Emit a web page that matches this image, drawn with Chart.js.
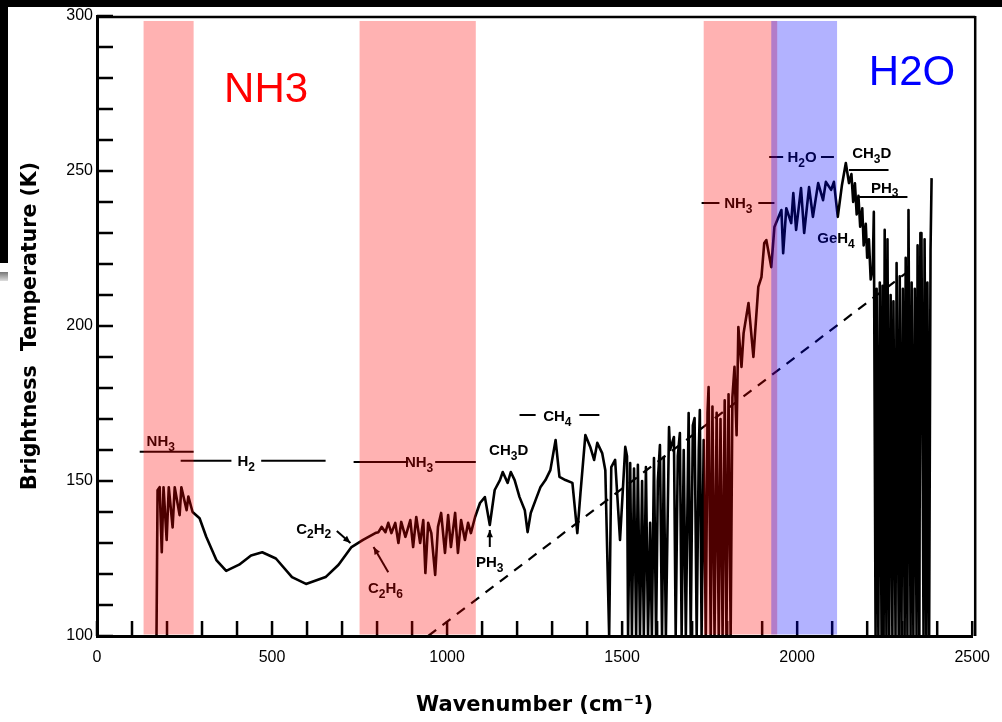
<!DOCTYPE html>
<html>
<head>
<meta charset="utf-8">
<script src="https://cdn.jsdelivr.net/npm/chart.js@4.4.1/dist/chart.umd.min.js"></script>
<style>
  html, body { margin: 0; padding: 0; background: #fff; }
  canvas { display: block; }
</style>
</head>
<body>
<canvas id="spectrumChart" width="1002" height="722"></canvas>
<script>
// spectrum: wavenumber (cm-1) and brightness temperature (K)
const wavenumber = [
  170, 173, 179, 185, 190, 199, 205, 216, 222, 236, 241, 256, 261, 273,
  293, 312, 341, 369, 406, 440, 472, 511, 557, 597, 653, 690, 727, 760, 795,
  804, 813, 824, 832, 841, 852, 861, 869, 881, 895, 903, 912, 923, 932, 938,
  946, 955, 966, 974, 983, 994, 1003, 1011, 1023, 1031, 1040, 1051, 1060, 1068, 1080,
  1094, 1108, 1122, 1136, 1151, 1159, 1173, 1182, 1193, 1207, 1222, 1230, 1239,
  1253, 1267, 1281, 1295, 1310, 1321, 1338, 1358, 1372, 1381, 1395, 1409, 1420,
  1429, 1443, 1452, 1463, 1469, 1480, 1494, 1509,
  1514, 1517, 1523, 1528, 1534, 1540, 1545, 1551, 1557, 1562, 1568, 1574, 1580, 1585,
  1591, 1597, 1602, 1608, 1614, 1619, 1625, 1634, 1637, 1648, 1653, 1659, 1665, 1670,
  1676, 1682, 1690, 1696, 1702, 1707, 1713, 1719, 1722, 1727, 1733,
  1739, 1744, 1747, 1753, 1758, 1764, 1770, 1776, 1781, 1787, 1793, 1798, 1804, 1810,
  1815, 1821, 1827, 1832,
  1841, 1847, 1861, 1875, 1889, 1898, 1906, 1912, 1926, 1935, 1955, 1960, 1969,
  1983, 1989, 1997, 2011, 2020, 2034, 2045, 2060, 2074, 2082, 2097, 2105, 2116,
  2128, 2139, 2148, 2155, 2160, 2165, 2170, 2175, 2180, 2186, 2190, 2196, 2200, 2205, 2210,
  2216, 2219, 2224, 2227, 2232, 2236, 2241, 2244, 2247, 2250, 2255, 2258, 2263, 2267,
  2272, 2275, 2281, 2284, 2290, 2293, 2298, 2302, 2307, 2310, 2315, 2318, 2324, 2327,
  2332, 2336, 2341, 2344, 2349, 2352, 2355, 2361, 2364, 2369, 2372, 2377, 2381, 2384
];
const brightnessT = [
  100, 147, 148, 127, 148, 131, 148, 135, 148, 139, 148, 140.6, 145, 140,
  138, 132, 124.5, 121, 123, 126, 127, 125, 119, 116.8, 119, 123, 128.7, 131, 133.2,
  133.5, 135.2, 133.5, 136.5, 133.2, 136.5, 130, 136.8, 132, 137.4, 128.7, 138.4, 130, 137.4, 120.3,
  136.5, 133.2, 119.7, 135.2, 139.7, 126.8, 139, 128.7, 139.7, 126.8, 137.4, 131, 136.5, 133.2, 138.4,
  142.9, 144.8, 135.8, 147.1, 150.3, 152.9, 149.4, 152.9, 150.3, 144.8, 140.6, 133.5, 139.7,
  143.9, 148.1, 150.3, 153.5, 163.2, 151.3, 150.3, 149.4, 133.2, 146.1, 164.8, 161, 156.8,
  162.3, 159, 153.5, 100, 154.5, 156.8, 131, 161,
  158, 100, 155.8, 100, 154, 100, 155.2, 100, 150, 100, 154.5, 100, 136.5, 100,
  157.4, 100, 150, 161.6, 100, 157.7, 100, 167.4, 160, 164.2, 100, 158, 165.5, 100,
  160, 100, 171.9, 100, 168, 170.3, 100, 160, 172.9, 100, 163.2,
  100, 172, 180.3, 100, 174, 100, 172, 100, 170, 100, 176, 100, 178, 100,
  177, 186.8, 164.8, 199.7,
  186.8, 197.7, 207.4, 190, 212.6, 215.8, 226.8, 227.7, 219, 231.9, 237.4, 223.5, 238,
  233.2, 242.9, 231, 244.5, 230, 244.8, 235.2, 246.1, 240.6, 246.5, 243.9, 246.5, 235.2,
  245.5, 252.6, 246.1, 249, 240, 246, 236, 242, 232, 238, 226, 233, 222, 228, 215, 219,
  236.8, 100, 212, 100, 214, 100, 213, 100, 231, 100, 228, 100, 210, 100,
  208, 100, 220.3, 100, 216, 100, 212, 100, 222, 100, 237.4, 100, 214, 100,
  212, 100, 226, 100, 230, 230, 100, 228, 100, 214, 100, 224.5, 247.7, 100
];

// dashed reference line
const dashWavenumber = [946, 2310];
const dashT = [100, 217];

// absorption windows marked on top of the figure
const nh3Bands = [[133, 276], [750, 1082], [1733, 1943]];
const h2oBands = [[1926, 2114]];

// molecule labels from the original figure
const tagText = ['NH3', 'H2', 'NH3', 'C2H2', 'C2H6', 'CH3D', 'PH3', 'CH4', 'NH3', 'H2O', 'CH3D', 'PH3', 'GeH4'];
const tagWn   = [182, 426, 920, 619, 824, 1176, 1122, 1315, 1832, 2014, 2213, 2250, 2111];
const tagT    = [162.9, 156.5, 156.1, 134.8, 115.5, 160, 123.9, 171, 239.7, 254.5, 255.8, 244.8, 228.4];
// rule segments [from, to, T]
const tagRules = [
  [122, 276, 159.4], [239, 384, 156.5], [469, 653, 156.5],
  [733, 889, 156.1], [966, 1082, 156.1], [1207, 1253, 171.3], [1378, 1435, 171.3],
  [1727, 1778, 239.7], [1889, 1935, 239.7], [1920, 1960, 254.5], [2068, 2105, 254.5],
  [2148, 2261, 250.3], [2176, 2315, 241.6]
];
// arrows [wn0, T0, wn1, T1] (head at the end)
const tagArrows = [[685, 133.9, 724, 130], [832, 120.6, 790, 128.7], [1122, 128.7, 1122, 134.2]];

const spectrum = wavenumber.map((w, i) => ({ x: w, y: brightnessT[i] }));
const dashed = dashWavenumber.map((w, i) => ({ x: w, y: dashT[i] }));

function drawChem(ctx, str, cx, cy, size) {
  const big = 'bold ' + size + 'px "Liberation Sans"';
  const small = 'bold ' + Math.round(size * 0.78) + 'px "Liberation Sans"';
  let w = 0;
  for (const ch of str) { ctx.font = /\d/.test(ch) ? small : big; w += ctx.measureText(ch).width; }
  let x = cx - w / 2;
  const base = cy + size * 0.36;
  ctx.textAlign = 'left';
  ctx.textBaseline = 'alphabetic';
  for (const ch of str) {
    const sub = /\d/.test(ch);
    ctx.font = sub ? small : big;
    ctx.fillText(ch, x, sub ? base + size * 0.3 : base);
    x += ctx.measureText(ch).width;
  }
}

const paperPlugin = {
  id: 'paper',
  beforeDraw(chart) {
    const ctx = chart.ctx;
    ctx.save();
    ctx.fillStyle = '#fff';
    ctx.fillRect(0, 0, chart.width, chart.height);
    ctx.restore();
  },
  beforeDatasetsDraw(chart) {
    const ctx = chart.ctx, a = chart.chartArea;
    const xs = chart.scales.x, ys = chart.scales.y;
    ctx.save();
    ctx.strokeStyle = '#000';
    ctx.lineWidth = 2.5;
    ctx.beginPath();
    xs.ticks.forEach(t => {
      const px = xs.getPixelForValue(t.value);
      ctx.moveTo(px, a.bottom); ctx.lineTo(px, a.bottom - 15);
    });
    ys.ticks.forEach(t => {
      const py = ys.getPixelForValue(t.value);
      ctx.moveTo(a.left, py); ctx.lineTo(a.left + 16, py);
    });
    ctx.stroke();
    // top and right frame
    ctx.beginPath();
    ctx.moveTo(a.left, a.top + 1); ctx.lineTo(a.right + 3, a.top + 1);
    ctx.moveTo(a.right + 3, a.top); ctx.lineTo(a.right + 3, a.bottom);
    ctx.stroke();
    ctx.restore();
  },
  afterDatasetsDraw(chart) {
    const ctx = chart.ctx, a = chart.chartArea;
    const xs = chart.scales.x, ys = chart.scales.y;
    ctx.save();
    // molecule labels and rules
    ctx.fillStyle = '#000';
    ctx.strokeStyle = '#000';
    ctx.lineWidth = 2;
    tagText.forEach((t, i) => drawChem(ctx, t, xs.getPixelForValue(tagWn[i]), ys.getPixelForValue(tagT[i]), 15));
    ctx.beginPath();
    tagRules.forEach(r => {
      const py = ys.getPixelForValue(r[2]);
      ctx.moveTo(xs.getPixelForValue(r[0]), py); ctx.lineTo(xs.getPixelForValue(r[1]), py);
    });
    ctx.stroke();
    tagArrows.forEach(r => {
      const x0 = xs.getPixelForValue(r[0]), y0 = ys.getPixelForValue(r[1]);
      const x1 = xs.getPixelForValue(r[2]), y1 = ys.getPixelForValue(r[3]);
      ctx.beginPath(); ctx.moveTo(x0, y0); ctx.lineTo(x1, y1); ctx.stroke();
      const ang = Math.atan2(y1 - y0, x1 - x0);
      ctx.beginPath();
      ctx.moveTo(x1, y1);
      ctx.lineTo(x1 - 8 * Math.cos(ang - 0.4), y1 - 8 * Math.sin(ang - 0.4));
      ctx.lineTo(x1 - 8 * Math.cos(ang + 0.4), y1 - 8 * Math.sin(ang + 0.4));
      ctx.closePath(); ctx.fill();
    });
    // translucent windows
    const top = ys.getPixelForValue(298.4);
    const bottom = a.bottom - 1.5;
    ctx.fillStyle = 'rgba(255,0,0,0.3)';
    nh3Bands.forEach(b => {
      const x0 = xs.getPixelForValue(b[0]), x1 = xs.getPixelForValue(b[1]);
      ctx.fillRect(x0, top, x1 - x0, bottom - top);
    });
    ctx.fillStyle = 'rgba(0,0,255,0.3)';
    h2oBands.forEach(b => {
      const x0 = xs.getPixelForValue(b[0]), x1 = xs.getPixelForValue(b[1]);
      ctx.fillRect(x0, top, x1 - x0, bottom - top);
    });
    // big labels
    ctx.textAlign = 'center';
    ctx.textBaseline = 'middle';
    ctx.font = '42px "Liberation Sans"';
    ctx.fillStyle = '#ff0000';
    ctx.fillText('NH3', xs.getPixelForValue(483), ys.getPixelForValue(276.1));
    ctx.fillStyle = '#0000ff';
    ctx.fillText('H2O', xs.getPixelForValue(2328), ys.getPixelForValue(281.6));
    ctx.restore();
  },
  afterDraw(chart) {
    const ctx = chart.ctx, a = chart.chartArea;
    ctx.save();
    ctx.fillStyle = '#000';
    ctx.textAlign = 'center';
    ctx.textBaseline = 'middle';
    ctx.font = 'bold 21px "DejaVu Sans"';
    ctx.fillText('Wavenumber (cm\u207B\u00B9)', (a.left + a.right) / 2, 706);
    ctx.translate(31, (a.top + a.bottom) / 2);
    ctx.rotate(-Math.PI / 2);
    ctx.font = 'bold 20.5px "DejaVu Sans"';
    ctx.fillText('Brightness  Temperature (K)', 0, 0);
    ctx.restore();
    // scan edges
    ctx.save();
    ctx.fillStyle = '#000';
    ctx.fillRect(0, 0, chart.width, 7);
    ctx.fillRect(0, 0, 8, 263);
    const g = ctx.createLinearGradient(0, 272, 0, 281);
    g.addColorStop(0, '#777');
    g.addColorStop(1, '#ddd');
    ctx.fillStyle = g;
    ctx.fillRect(0, 272, 8, 9);
    ctx.restore();
  }
};

const tickFont = { family: 'Liberation Sans', size: 16 };

new Chart(document.getElementById('spectrumChart'), {
  type: 'scatter',
  data: {
    datasets: [
      { data: spectrum, showLine: true, borderColor: '#000', borderWidth: 2.6, borderJoinStyle: 'round',
        pointRadius: 0, tension: 0 },
      { data: dashed, showLine: true, borderColor: '#000', borderWidth: 2.2, borderDash: [10, 8], pointRadius: 0 }
    ]
  },
  options: {
    responsive: false,
    animation: false,
    devicePixelRatio: 1,
    layout: { padding: { top: 16, right: 25, left: 0, bottom: 0 } },
    plugins: { legend: { display: false }, tooltip: { enabled: false } },
    scales: {
      x: {
        type: 'linear', min: 0, max: 2500,
        ticks: { stepSize: 100, autoSkip: false, maxRotation: 0, color: '#000', font: tickFont, padding: 12,
                 callback: v => (v % 500 === 0 ? String(v) : '') },
        grid: { display: false, drawTicks: false },
        border: { display: true, color: '#000', width: 3 },
        afterFit: s => { s.height = 86; }
      },
      y: {
        type: 'linear', min: 100, max: 300,
        ticks: { stepSize: 10, autoSkip: false, color: '#000', font: tickFont, padding: 4,
                 callback: v => (v % 50 === 0 ? String(v) : '') },
        grid: { display: false, drawTicks: false },
        border: { display: true, color: '#000', width: 3 },
        afterFit: s => { s.width = 97; }
      }
    }
  },
  plugins: [paperPlugin]
});
</script>
</body>
</html>
